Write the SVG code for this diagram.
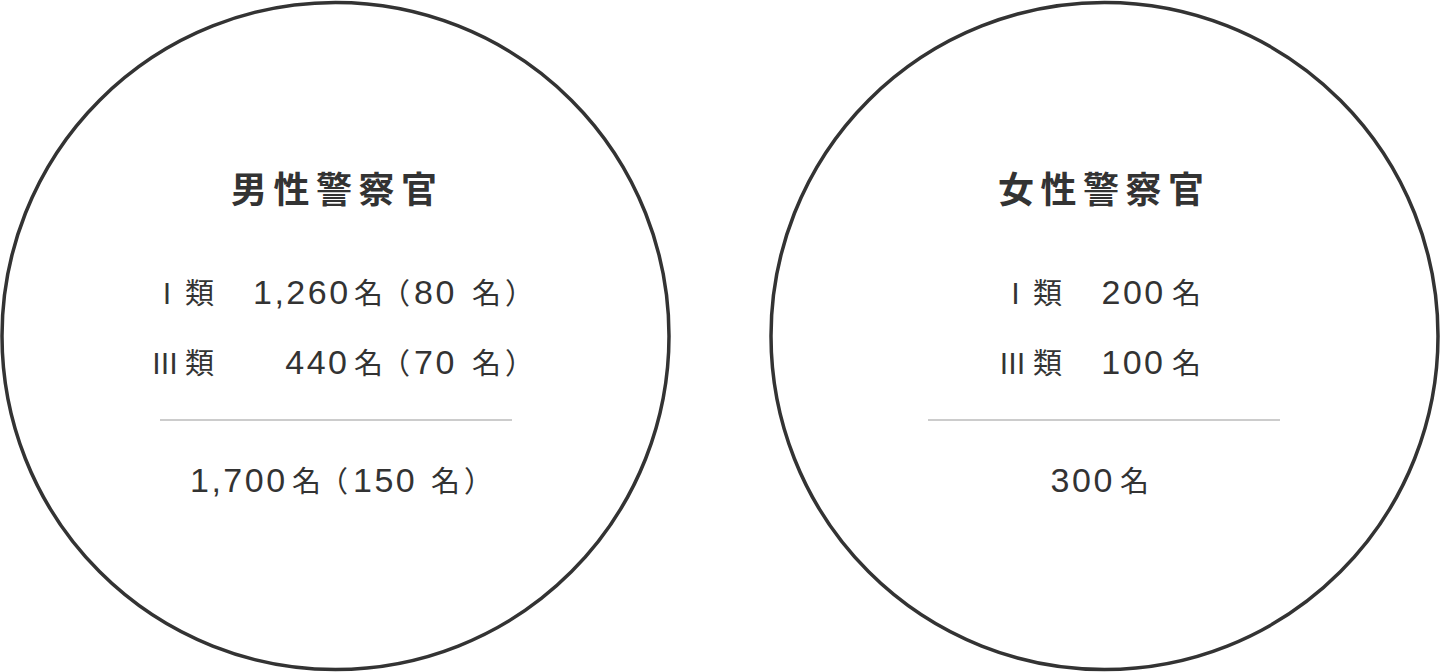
<svg xmlns="http://www.w3.org/2000/svg" width="1440" height="672" viewBox="0 0 1440 672">
<style>
.ring{fill:none;stroke:#333;stroke-width:3.5}
.rule{stroke:#ccc;stroke-width:2}
.title{font-family:"Noto Sans CJK JP",sans-serif;font-weight:700;font-size:36px;letter-spacing:6.5px;fill:#333}
.jp{font-family:"Noto Sans CJK JP",sans-serif;font-size:29px;fill:#333}
.num{font-family:"Liberation Sans","Noto Sans CJK JP",sans-serif;font-size:34px;letter-spacing:2.5px;fill:#333}
.mid{text-anchor:middle}
</style>
<rect width="1440" height="672" fill="#fff"/>
<g id="male">
<circle class="ring" cx="335.5" cy="336" r="333.5"/>
<text class="title" x="231" y="202.5">男性警察官</text>
<text y="304"><tspan class="jp mid" x="167">Ⅰ</tspan><tspan class="jp" x="185">類</tspan><tspan class="num" x="253">1,260</tspan><tspan class="jp" x="354">名</tspan><tspan class="jp" x="381">（</tspan><tspan class="num" x="414">80</tspan><tspan class="jp" x="472">名</tspan><tspan class="jp" x="505">）</tspan></text>
<text y="374"><tspan class="jp mid" x="165">Ⅲ</tspan><tspan class="jp" x="185">類</tspan><tspan class="num" x="285.3">440</tspan><tspan class="jp" x="354">名</tspan><tspan class="jp" x="381">（</tspan><tspan class="num" x="414">70</tspan><tspan class="jp" x="472">名</tspan><tspan class="jp" x="505">）</tspan></text>
<line class="rule" x1="160" y1="420" x2="512" y2="420"/>
<text y="492"><tspan class="num" x="190">1,700</tspan><tspan class="jp" x="292">名</tspan><tspan class="jp" x="319">（</tspan><tspan class="num" x="353">150</tspan><tspan class="jp" x="431">名</tspan><tspan class="jp" x="464">）</tspan></text>
</g>
<g id="female">
<circle class="ring" cx="1104.5" cy="336" r="333.5"/>
<text class="title" x="998" y="202.5">女性警察官</text>
<text y="304"><tspan class="jp mid" x="1015.5">Ⅰ</tspan><tspan class="jp" x="1033">類</tspan><tspan class="num" x="1101.5">200</tspan><tspan class="jp" x="1172">名</tspan></text>
<text y="374"><tspan class="jp mid" x="1012.5">Ⅲ</tspan><tspan class="jp" x="1033">類</tspan><tspan class="num" x="1101.3">100</tspan><tspan class="jp" x="1172">名</tspan></text>
<line class="rule" x1="928" y1="420" x2="1280" y2="420"/>
<text y="492"><tspan class="num" x="1050.6">300</tspan><tspan class="jp" x="1120">名</tspan></text>
</g>
<g id="connectors"/>
</svg>
